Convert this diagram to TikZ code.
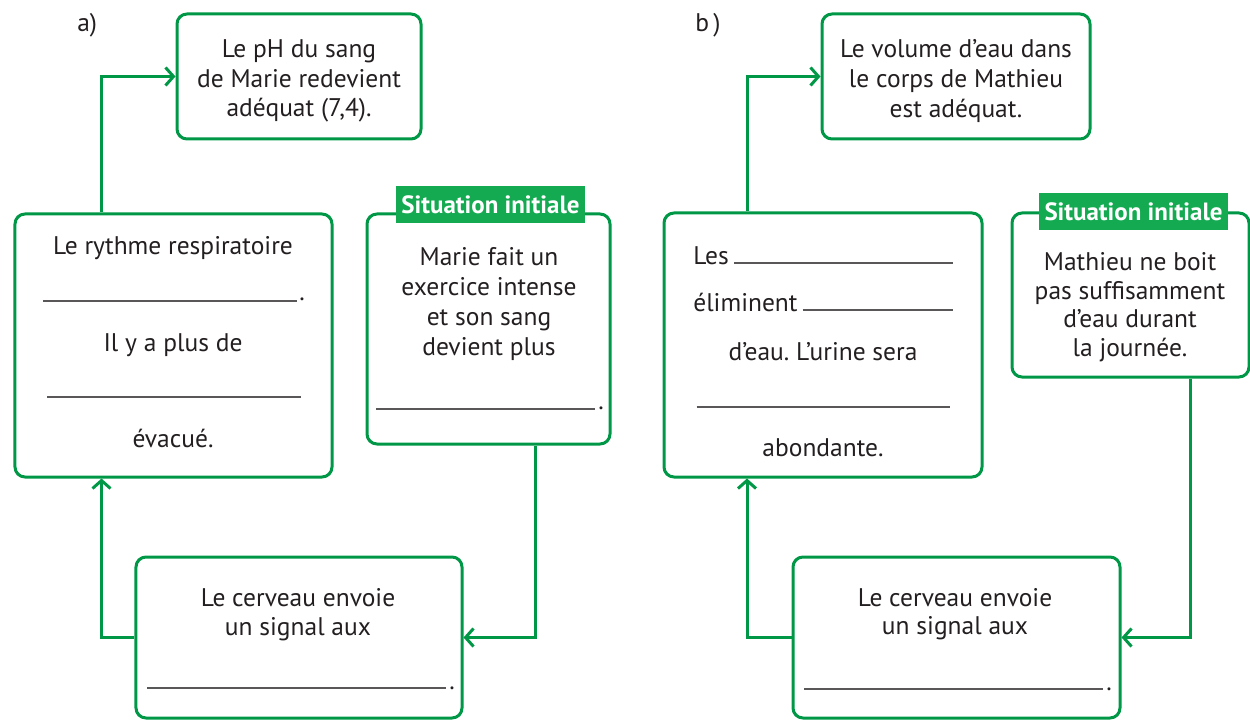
\documentclass[tikz,border=0pt]{standalone}
\usepackage{fontspec}
\setmainfont{PT Sans}
\usetikzlibrary{arrows.meta}
\definecolor{vert}{RGB}{0,152,70}
\definecolor{vertvif}{RGB}{20,170,82}
\definecolor{encre}{RGB}{35,31,32}
\def\cadre{(0,0) rectangle (1250,720)}
\frenchspacing

\begin{document}
\begin{tikzpicture}[x=0.2mm,y=-0.2mm,
  boite/.style={draw=vert,line width=0.6mm,rounded corners=2mm},
  etiquette/.style={fill=vertvif,text=white,minimum width=37.8mm,minimum height=7.4mm,
    inner sep=0pt,font=\bfseries\fontsize{14.2}{16}\selectfont},
  txt/.style={text=encre,inner sep=0pt,font=\fontsize{14.5}{17}\selectfont},
  serre/.style={font=\fontsize{14.5}{16.2}\selectfont},
  trait/.style={draw=encre!75,line width=0.35mm},
  fleche/.style={draw=vert,line width=0.6mm,-{Straight Barb[length=1.6mm,width=3.6mm]}}]
\useasboundingbox \cadre;

% a)
\node[txt,anchor=base west] (titreA) at (77,32) {a)};
\node[boite,minimum width=48.8mm,minimum height=25mm] (phA) at (299,76.5) {};
\node[boite,minimum width=63.4mm,minimum height=52.6mm] (rythA) at (173.5,345.5) {};
\node[boite,minimum width=48.6mm,minimum height=46mm] (sitA) at (488.5,329) {};
\node[etiquette] (etiqA) at (490.5,204.5) {Situation initiale};
\node[boite,minimum width=65.2mm,minimum height=32.2mm] (cerA) at (299,637.5) {};

\node[txt,align=center] (p1) at (299,81) {Le pH du sang\\de Marie redevient\\adéquat (7,4).};

\node[txt,anchor=base] (r1) at (173,255) {Le rythme respiratoire};
\draw[trait] (43,300.7) -- (297,300.7);
\node[txt,anchor=base west] (r2) at (299,300.7) {.};
\node[txt,anchor=base] (r3) at (173,351.7) {Il y a plus de};
\draw[trait] (47,397.3) -- (300.7,397.3);
\node[txt,anchor=base] (r4) at (173,447.3) {évacué.};

\node[txt,align=center] (s1) at (489,304) {Marie fait un\\exercice intense\\et son sang\\devient plus};
\draw[trait] (376,409) -- (595,409);
\node[txt,anchor=base west] (s2) at (598,409) {.};

\node[txt,serre,align=center] (c1) at (298,614.5) {Le cerveau envoie\\un signal aux};
\draw[trait] (147,688.3) -- (446,688.3);
\node[txt,anchor=base west] (c2) at (449,689.3) {.};

\coordinate (kA) at (101.5,0);
\coordinate (jA) at (535,0);
\draw[fleche] (rythA.north -| kA) |- (phA.west);
\draw[fleche] (cerA.west) -| (rythA.south -| kA);
\draw[fleche] (sitA.south -| jA) |- (cerA.east);

% b)
\node[txt,anchor=base west] (titreB) at (695,31.7) {b\,)};
\node[boite,minimum width=53.6mm,minimum height=25mm] (volB) at (956,76.5) {};
\node[boite,minimum width=63.6mm,minimum height=52.8mm] (elimB) at (823,345) {};
\node[boite,minimum width=47.4mm,minimum height=32.8mm] (sitB) at (1130.5,295) {};
\node[etiquette] (etiqB) at (1133.5,211.5) {Situation initiale};
\node[boite,minimum width=65.4mm,minimum height=32.2mm] (cerB) at (956.5,637.5) {};

\node[txt,align=center] (v1) at (956,81) {Le volume d’eau dans\\le corps de Mathieu\\est adéquat.};

\node[txt,anchor=base west] (e1) at (693,264.3) {Les};
\draw[trait] (734,262.7) -- (953,262.7);
\node[txt,anchor=base west] (e2) at (693,311.7) {éliminent};
\draw[trait] (802.7,310.3) -- (953,310.3);
\node[txt,anchor=base] (e3) at (823,360) {d’eau. L’urine sera};
\draw[trait] (696.7,406.7) -- (950,406.7);
\node[txt,anchor=base] (e4) at (823,456) {abondante.};

\node[txt,serre,align=center] (m1) at (1130,307) {Mathieu ne boit\\pas suffisamment\\d’eau durant\\la journée.};

\node[txt,serre,align=center] (c3) at (955,614) {Le cerveau envoie\\un signal aux};
\draw[trait] (804,689) -- (1103,689);
\node[txt,anchor=base west] (c4) at (1106,690) {.};

\coordinate (kB) at (747,0);
\coordinate (jB) at (1190,0);
\draw[fleche] (elimB.north -| kB) |- (volB.west);
\draw[fleche] (cerB.west) -| (elimB.south -| kB);
\draw[fleche] (sitB.south -| jB) |- (cerB.east);
\end{tikzpicture}
\end{document}
